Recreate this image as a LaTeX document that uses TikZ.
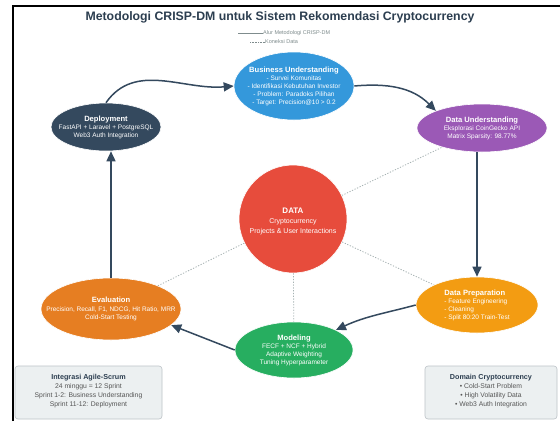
\documentclass[tikz,border=0pt]{standalone}
\usepackage{fontspec}
\setmainfont{Liberation Sans}
\usetikzlibrary{shapes.geometric,arrows.meta}

\definecolor{cBU}{HTML}{3498DB}
\definecolor{cDU}{HTML}{9B59B6}
\definecolor{cDP}{HTML}{F39C12}
\definecolor{cMO}{HTML}{27AE60}
\definecolor{cEV}{HTML}{E67E22}
\definecolor{cDE}{HTML}{34495E}
\definecolor{cDA}{HTML}{E74C3C}
\definecolor{cTitle}{HTML}{2C3E50}
\definecolor{cGray}{HTML}{7F8C8D}
\definecolor{cDot}{HTML}{A5B1B2}
\definecolor{cBoxFill}{HTML}{ECF0F1}
\definecolor{cBoxLine}{HTML}{BDC3C7}
\definecolor{cBoxText}{HTML}{555555}

\newcommand\phasettl[1]{{\fontsize{7.6}{9}\selectfont\bfseries #1}}
\newcommand\boxttl[1]{{\fontsize{7.2}{9}\selectfont\bfseries\color{cTitle}#1}}

\tikzset{
  phase/.style={ellipse, draw=white, line width=0.6pt, inner sep=0pt},
  phasetext/.style={text=white, align=center, inner sep=0pt, font=\fontsize{6.5}{8}\selectfont},
  flow/.style={draw=cDE, line width=1.5pt, -{Triangle[length=10pt,width=9pt]}},
  datalink/.style={draw=cDot, line width=0.8pt, dash pattern=on 1.2pt off 1.6pt},
  infobox/.style={draw=cBoxLine, fill=cBoxFill, line width=0.6pt, rounded corners=3pt},
  infotext/.style={text=cBoxText, align=center, inner sep=0pt, font=\fontsize{6.8}{9.2}\selectfont},
  legendtext/.style={text=cGray, anchor=west, inner sep=0pt, font=\fontsize{5.5}{6}\selectfont}
}

\begin{document}
\begin{tikzpicture}[x=1pt,y=-1pt]
\useasboundingbox (0,0) rectangle (560,421);
\fill[white] (0,0) rectangle (560,421);

% frame edges
\draw[black, line width=2pt] (13,421) -- (13,6) -- (560,6);

% title
\node[text=cTitle, font=\fontsize{12.3}{14}\selectfont\bfseries] (title) at (280,17)
  {Metodologi CRISP-DM untuk Sistem Rekomendasi Cryptocurrency};

% legend
\node[legendtext] (legA) at (263,33) {Alur Metodologi CRISP-DM};
\node[legendtext] (legB) at (265,42) {Koneksi Data};
\coordinate (legAs) at (238,33);
\coordinate (legBs) at (250,42);
\draw[cGray, line width=0.5pt] (legAs) -- (legA.west);
\draw[cGray, line width=0.5pt, dash pattern=on 0.8pt off 0.8pt] (legBs) -- (legB.west);

% central data node
\node[circle, fill=cDA, draw=white, line width=0.6pt, minimum size=108pt, inner sep=0pt] (data) at (293,219) {};
\node[phasetext, font=\fontsize{7}{9.5}\selectfont] (dataT) at (293,221)
  {{\fontsize{8}{9.5}\selectfont\bfseries DATA}\\[1pt]Cryptocurrency\\Projects \& User Interactions};

% CRISP-DM phases (shapes)
\node[phase, fill=cBU, minimum width=120pt, minimum height=68pt] (bu) at (294,86) {};
\node[phase, fill=cDU, minimum width=130pt, minimum height=48pt] (du) at (482,128) {};
\node[phase, fill=cDP, minimum width=122pt, minimum height=56pt] (dp) at (477,305) {};
\node[phase, fill=cMO, minimum width=118pt, minimum height=56pt] (mo) at (294,350) {};
\node[phase, fill=cEV, minimum width=140pt, minimum height=62pt] (ev) at (111,309) {};
\node[phase, fill=cDE, minimum width=110pt, minimum height=48pt] (de) at (106,127) {};

% CRISP-DM phases (labels)
\node[phasetext] (buT) at (bu) {\phasettl{Business Understanding}\\- Survei Komunitas\\- Identifikasi Kebutuhan Investor\\- Problem: Paradoks Pilihan\\- Target: Precision@10 > 0.2};
\node[phasetext] (duT) at (du) {\phasettl{Data Understanding}\\Eksplorasi CoinGecko API\\Matrix Sparsity: 98.77\%};
\node[phasetext, align=left] (dpT) at (dp) {\phasettl{Data Preparation}\\- Feature Engineering\\- Cleaning\\- Split 80:20 Train-Test};
\node[phasetext] (moT) at (mo) {\phasettl{Modeling}\\FECF + NCF + Hybrid\\Adaptive Weighting\\Tuning Hyperparameter};
\node[phasetext] (evT) at (ev) {\phasettl{Evaluation}\\[1pt]Precision, Recall, F1, NDCG, Hit Ratio, MRR\\Cold-Start Testing};
\node[phasetext] (deT) at (de) {\phasettl{Deployment}\\FastAPI + Laravel + PostgreSQL\\Web3 Auth Integration};

% data links
\draw[datalink] (data) -- (du);
\draw[datalink] (data) -- (dp);
\draw[datalink] (data) -- (mo);
\draw[datalink] (data) -- (ev);

% process flow
\draw[flow] (bu.east) to[out=5,in=135] (du.north west);
\draw[flow] (du.south -| dp.north) -- (dp.north);
\draw[flow] (dp.west) to[out=195,in=25] (mo.north east);
\draw[flow] (mo.west) -- (ev.-15);
\draw[flow] (ev.north) -- (ev.north |- de.south);
\draw[flow] (de.north) to[out=55,in=185] (bu.west);

% info boxes
\node[infobox, minimum width=147pt, minimum height=53pt] (agile) at (88.5,392.5) {};
\node[infotext] (agileT) at (88.5,391)
  {\boxttl{Integrasi Agile-Scrum}\\24 minggu = 12 Sprint\\Sprint 1-2: Business Understanding\\Sprint 11-12: Deployment};
\node[infobox, minimum width=132pt, minimum height=53pt] (dom) at (491,392.5) {};
\node[infotext] (domT) at (491,391)
  {\boxttl{Domain Cryptocurrency}\\• Cold-Start Problem\\• High Volatility Data\\• Web3 Auth Integration};
\end{tikzpicture}
\end{document}
